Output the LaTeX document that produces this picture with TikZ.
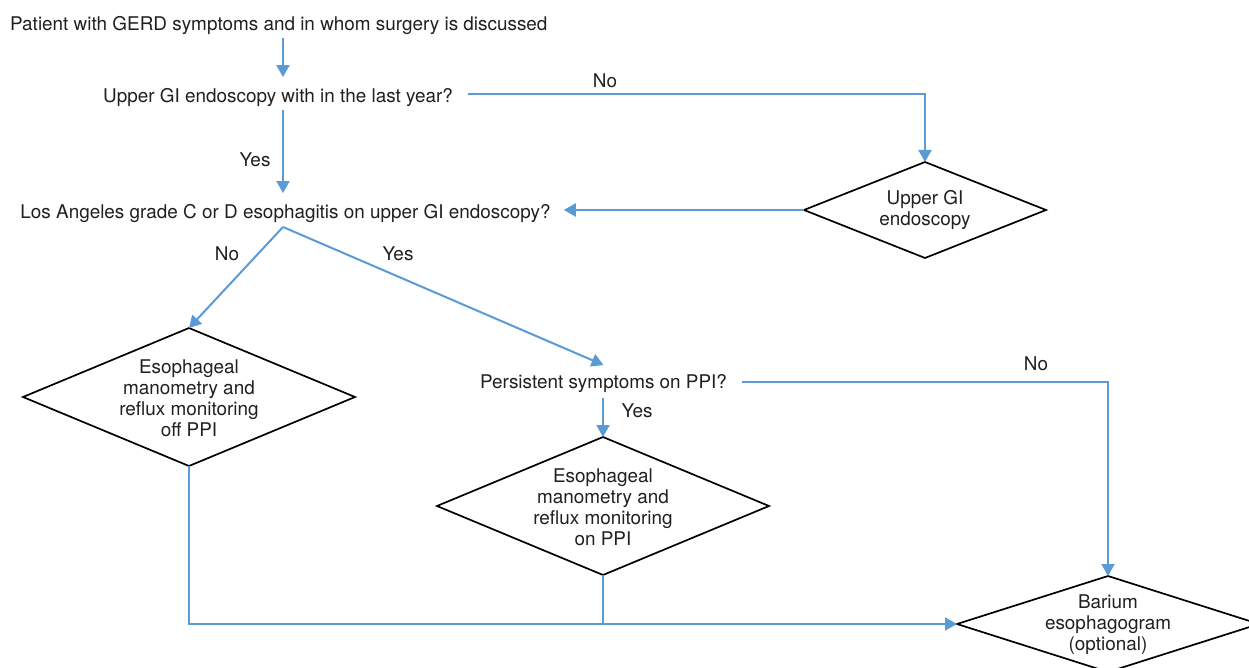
\documentclass[tikz,border=0pt]{standalone}
\usepackage{fontspec}
\setmainfont{TeX Gyre Heros}
\usetikzlibrary{arrows.meta,shapes.geometric,calc}
\definecolor{flowblue}{RGB}{91,155,213}
\definecolor{ink}{RGB}{35,31,32}
\begin{document}
\begin{tikzpicture}[x=1pt,y=-1pt,
  every node/.style={font=\fontsize{18.9}{21}\selectfont, text=ink},
  txt/.style={inner xsep=0pt, inner ysep=0pt, text height=13.5pt, text depth=0pt},
  lbl/.style={txt},
  dia/.style={diamond, draw=black, line width=1.7pt, inner sep=0pt, outer sep=0pt, fill=white},
  dtxt/.style={align=center, inner sep=0pt},
  conn/.style={draw=flowblue, line width=2pt},
  arr/.style={conn, -{Triangle[length=12pt,width=13pt]}}
]
\clip (0,0) rectangle (1249,668);
\fill[white] (0,0) rectangle (1249,668);

% text questions
\node[txt, anchor=west] (t0) at (10,24) {Patient with GERD symptoms and in whom surgery is discussed};
\node[txt] (q1) at (278,96) {Upper GI endoscopy with in the last year?};
\node[txt] (q2) at (285.5,212) {Los Angeles grade C or D esophagitis on upper GI endoscopy?};
\node[txt] (q3) at (603.5,382) {Persistent symptoms on PPI?};

% diamonds
\node[dia, minimum width=242pt, minimum height=96pt] (ugi) at (925,210) {};
\node[dtxt] (ugit) at (ugi) {Upper GI\\endoscopy};
\node[dia, minimum width=332pt, minimum height=138pt] (d1) at (189,397) {};
\node[dtxt] (d1t) at ([yshift=-1.5pt]d1) {Esophageal\\manometry and\\reflux monitoring\\off PPI};
\node[dia, minimum width=332pt, minimum height=138pt] (d2) at (603,506) {};
\node[dtxt] (d2t) at ([yshift=-1.5pt]d2) {Esophageal\\manometry and\\reflux monitoring\\on PPI};
\node[dia, minimum width=302pt, minimum height=96pt] (bar) at (1108,624) {};
\node[dtxt] (bart) at ([yshift=-1pt]bar) {Barium\\esophagogram\\(optional)};

% helper coordinates
\coordinate (c1) at (283,0);
\coordinate (apex) at (283,227);

% connectors
\draw[arr, shorten <=7pt, shorten >=12pt] (t0.south -| c1) -- (q1.north -| c1);
\draw[arr, shorten <=7pt, shorten >=12pt] (q1.south -| c1) -- (q2.north -| c1);
\draw[arr] ([xshift=15pt,yshift=1.5pt]q1.east) -| (ugi.north);
\draw[arr, shorten >=13pt] (ugi.west) -- (ugi.west -| q2.east);
\draw[arr] (apex) -- (d1.north);
\draw[arr] (apex) -- ([yshift=10pt]q3.north);
\draw[arr] ([xshift=15pt]q3.east) -| (bar.north);
\draw[arr, shorten <=9pt] (q3.south -| d2.north) -- (d2.north);
\draw[arr] (d1.south) |- (bar.west);
\draw[conn] (d2.south) -- (d2.south |- bar.west);

% labels
\node[lbl] (l1) at (605,81) {No};
\node[lbl] (l2) at (255,160) {Yes};
\node[lbl] (l3) at (227,254) {No};
\node[lbl] (l4) at (398,254) {Yes};
\node[lbl] (l5) at (1036,364) {No};
\node[lbl] (l6) at (637,411) {Yes};
\end{tikzpicture}
\end{document}
